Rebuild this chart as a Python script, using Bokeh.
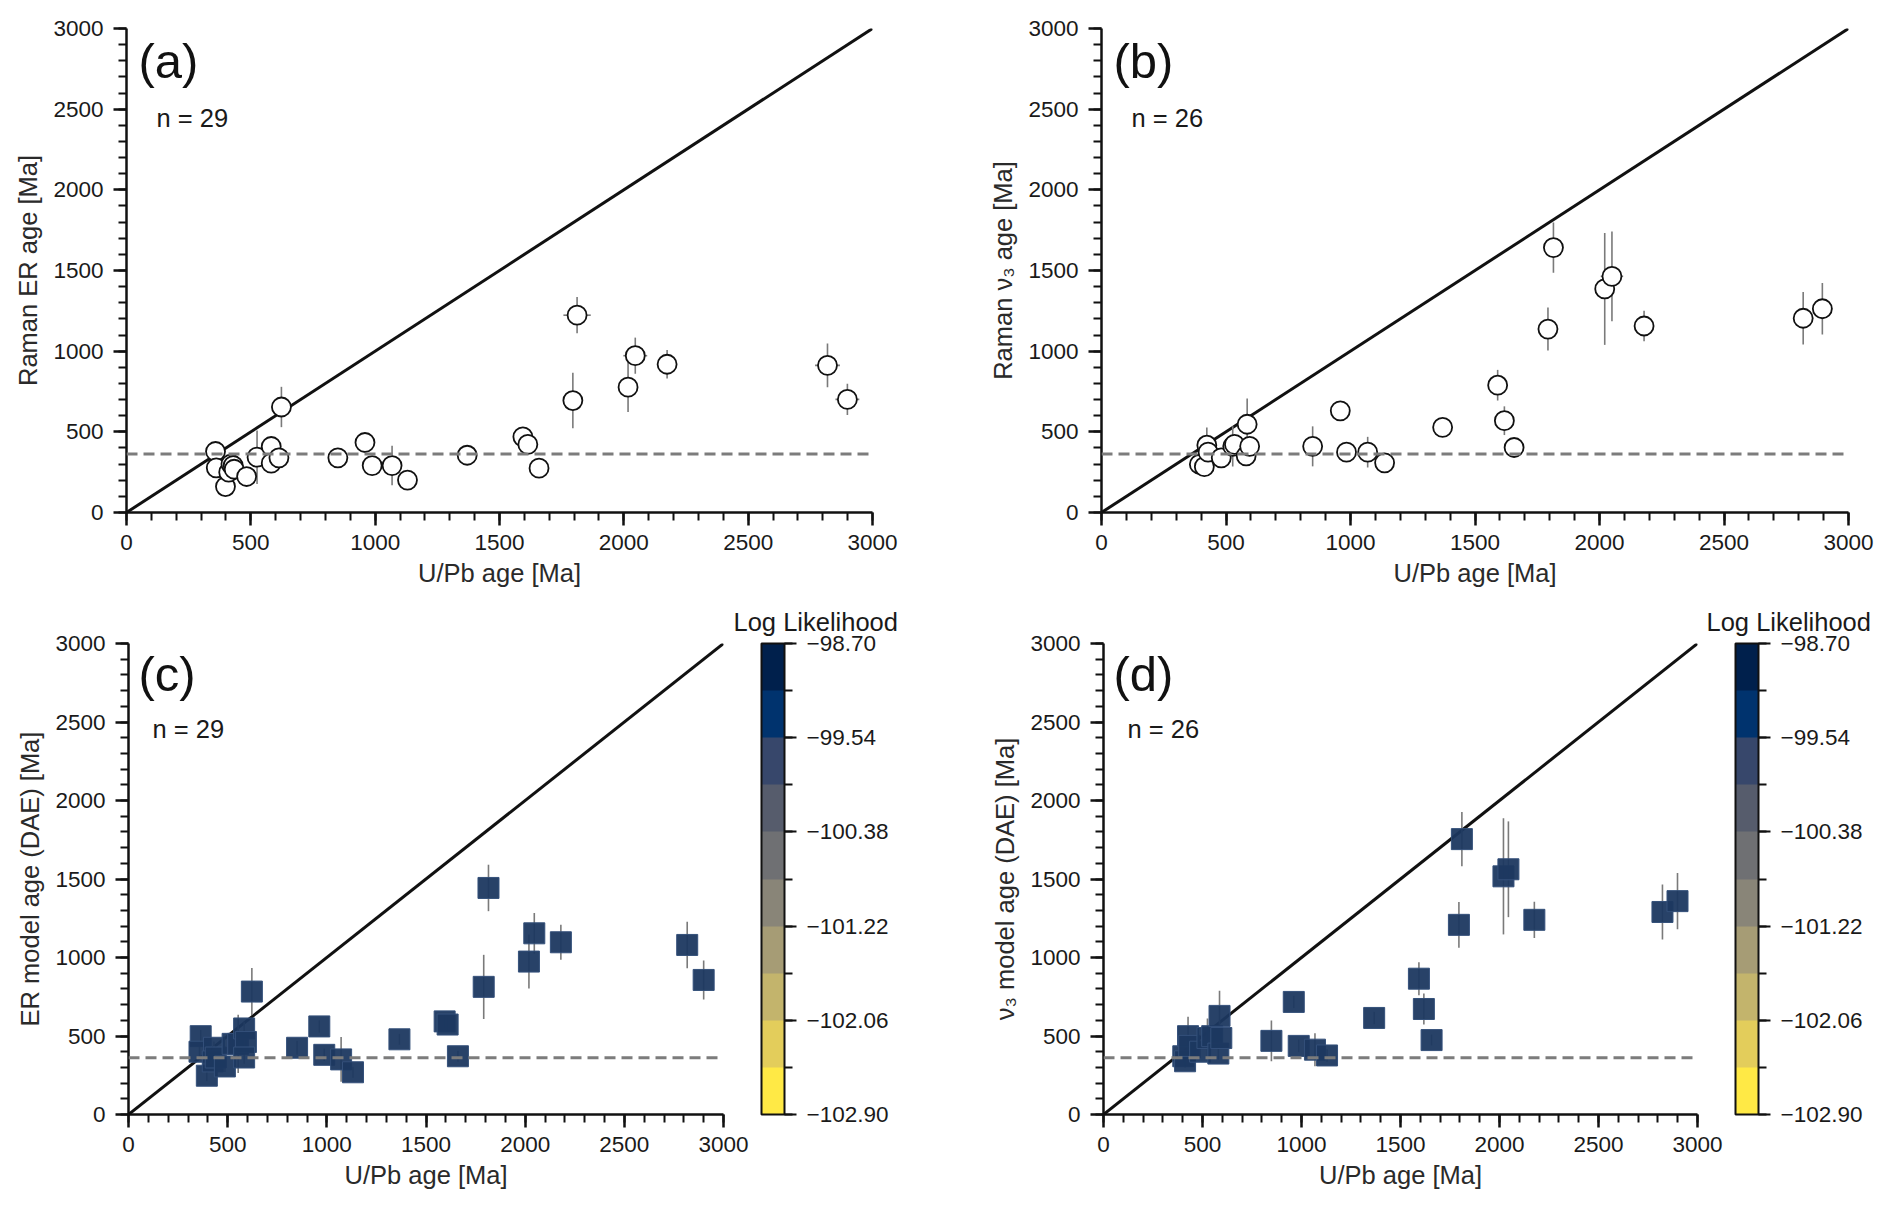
import numpy as np
from bokeh.plotting import figure
from bokeh.models import (ColumnDataSource, Range1d, SingleIntervalTicker, Span, Label, Title,
                          ColorBar, LinearColorMapper, FixedTicker, CustomJSTickFormatter)
from bokeh.layouts import column, row
from bokeh.palettes import cividis
from bokeh.embed import file_html
from bokeh.resources import INLINE

FONT = "Liberation Sans"

# ---- data ----
# (a) Raman ER age vs U/Pb age, n = 29
upb_a = [358, 361, 398, 411, 420, 429, 433, 483, 525, 582, 582, 613, 623, 850, 959, 988, 1068,
         1130, 1370, 1594, 1614, 1659, 1795, 1812, 2017, 2046, 2174, 2819, 2899]
upb_a_err = [15, 10, 10, 10, 10, 10, 10, 10, 10, 10, 10, 10, 10, 10, 10, 10, 10,
             10, 10, 10, 10, 10, 10, 55, 15, 48, 30, 50, 48]
er_a = [378, 277, 161, 250, 300, 291, 268, 223, 343, 409, 306, 339, 654, 339, 434, 291, 291,
        201, 355, 469, 422, 275, 694, 1223, 777, 972, 919, 912, 701]
er_a_err = [40, 35, 30, 35, 35, 40, 30, 30, 166, 35, 30, 40, 125, 30, 40, 35, 122,
            30, 30, 35, 40, 30, 172, 112, 154, 112, 89, 136, 97]

# (b) Raman nu3 age vs U/Pb age, n = 26
upb_b = [393, 413, 423, 428, 481, 527, 534, 581, 595, 585, 848, 959, 984, 1069, 1137, 1370,
         1591, 1618, 1657, 1793, 1815, 2021, 2050, 2179, 2818, 2895]
upb_b_err = [10, 10, 10, 10, 10, 10, 10, 10, 10, 10, 10, 10, 10, 10, 10, 10,
             10, 10, 10, 10, 40, 15, 45, 30, 40, 40]
nu3_b = [299, 284, 417, 374, 339, 410, 422, 351, 410, 547, 410, 630, 374, 374, 308, 528,
         789, 569, 403, 1137, 1642, 1386, 1464, 1156, 1204, 1263]
nu3_b_err = [40, 60, 110, 40, 35, 125, 40, 40, 40, 160, 124, 35, 35, 95, 35, 35,
             95, 89, 35, 133, 156, 347, 278, 95, 163, 160]

# (c) ER model age (DAE) vs U/Pb age, n = 29
upb_c = [364, 358, 395, 431, 425, 440, 486, 525, 553, 583, 592, 583, 622, 850, 962, 987, 1072,
         1132, 1366, 1594, 1609, 1661, 1791, 1815, 2019, 2046, 2180, 2817, 2900]
er_model_c = [499, 400, 247, 425, 338, 363, 306, 450, 450, 548, 462, 363, 783, 425, 561, 380, 351,
              269, 479, 593, 573, 371, 813, 1443, 974, 1154, 1097, 1080, 857]
er_model_c_err = [40, 40, 35, 40, 40, 40, 35, 40, 185, 40, 40, 40, 150, 45, 40, 40, 142,
                  35, 35, 40, 40, 35, 204, 148, 172, 130, 111, 148, 124]

# (d) nu3 model age (DAE) vs U/Pb age, n = 26
upb_d = [403, 412, 427, 433, 488, 525, 549, 580, 595, 586, 848, 961, 986, 1068, 1129, 1367,
         1593, 1618, 1657, 1795, 1810, 2020, 2045, 2176, 2823, 2899]
nu3_model_d = [371, 339, 499, 437, 400, 487, 499, 388, 487, 628, 469, 717, 437, 413, 376, 615,
               865, 672, 474, 1208, 1754, 1517, 1562, 1240, 1290, 1359]
nu3_model_d_err = [40, 40, 124, 40, 40, 124, 40, 40, 40, 161, 130, 40, 40, 105, 40, 40,
                   105, 99, 35, 146, 173, 370, 305, 115, 175, 179]

ref_age = 362  # dashed horizontal reference age [Ma]
ll_low, ll_high = -102.90, -98.70
ll_ticks = [-102.90, -102.06, -101.22, -100.38, -99.54, -98.70]
ll_bounds = [-102.90, -102.48, -102.06, -101.64, -101.22, -100.80, -100.38, -99.96, -99.54, -99.12, -98.70]


def make_panel(xs, ys, yerr, xerr, ylabel, kind, w, h, left, right, top, bottom):
    p = figure(width=w, height=h, x_range=Range1d(0, 3000), y_range=Range1d(0, 3000),
               output_backend="svg", toolbar_location=None,
               min_border_left=left, min_border_right=right,
               min_border_top=top, min_border_bottom=bottom)
    p.outline_line_color = None
    p.grid.visible = False

    for ax in (p.xaxis[0], p.yaxis[0]):
        ax.ticker = SingleIntervalTicker(interval=500, num_minor_ticks=5)
        ax.axis_line_width = 2.5
        ax.axis_line_color = "#111111"
        ax.major_tick_line_width = 2.5
        ax.major_tick_line_color = "#111111"
        ax.minor_tick_line_width = 2
        ax.minor_tick_line_color = "#111111"
        ax.major_tick_in = 0
        ax.major_tick_out = 13
        ax.minor_tick_in = 0
        ax.minor_tick_out = 8
        ax.major_label_text_font = FONT
        ax.major_label_text_font_size = "22.5px"
        ax.major_label_text_color = "#1a1a1a"
        ax.axis_label_text_font = FONT
        ax.axis_label_text_font_size = "25.5px"
        ax.axis_label_text_font_style = "normal"
        ax.axis_label_text_color = "#2a2a2a"
    p.xaxis.axis_label = "U/Pb age [Ma]"
    p.yaxis.axis_label = ylabel
    p.xaxis.major_label_standoff = 9
    p.yaxis.major_label_standoff = 10
    p.xaxis.axis_label_standoff = 6
    p.yaxis.axis_label_standoff = 8

    ys = np.array(ys, dtype=float)
    xs = np.array(xs, dtype=float)
    yerr = np.array(yerr, dtype=float)
    src = ColumnDataSource(dict(x=xs, y=ys, ylo=ys - yerr, yhi=ys + yerr))

    # 1:1 line and reference age
    p.line([0, 3000], [0, 3000], line_color="#111111", line_width=3)
    p.add_layout(Span(location=ref_age, dimension="width", line_color="#7c7c7c",
                      line_width=3, line_dash="11 6"))

    p.segment(x0="x", y0="ylo", x1="x", y1="yhi", source=src,
              line_color="#7a7a7a", line_width=1.6)
    if xerr is not None:
        xerr = np.array(xerr, dtype=float)
        src.data["xlo"] = xs - xerr
        src.data["xhi"] = xs + xerr
        p.segment(x0="xlo", y0="y", x1="xhi", y1="y", source=src,
                  line_color="#7a7a7a", line_width=1.6)

    if kind == "circle":
        p.scatter("x", "y", source=src, marker="circle", size=19,
                  fill_color="white", line_color="#111111", line_width=1.8)
    else:
        p.scatter("x", "y", source=src, marker="square", size=21,
                  fill_color="#1c3860", fill_alpha=0.95,
                  line_color="#34507a", line_width=1)
    return p


def add_labels(p, tag, n_text, fw, fh, tag_dx, n_dx, tag_dy, n_dy):
    # offsets given in screen pixels from the top-left corner of the frame
    p.add_layout(Label(x=tag_dx * 3000 / fw, y=3000 - tag_dy * 3000 / fh, text=tag,
                       text_font=FONT, text_font_size="49px", text_color="#111111",
                       text_baseline="middle", text_align="left"))
    p.add_layout(Label(x=n_dx * 3000 / fw, y=3000 - n_dy * 3000 / fh, text=n_text,
                       text_font=FONT, text_font_size="25.5px", text_color="#1a1a1a",
                       text_baseline="middle", text_align="left"))


def add_colorbar(p, title_offset):
    mapper = LinearColorMapper(palette=list(reversed(cividis(10))), low=ll_low, high=ll_high)
    cb = ColorBar(color_mapper=mapper, width=23, height=471, padding=0, margin=0,
                  location=(38, 0),
                  ticker=FixedTicker(ticks=ll_ticks, minor_ticks=ll_bounds),
                  formatter=CustomJSTickFormatter(code="return '\u2212' + Math.abs(tick).toFixed(2);"),
                  major_label_text_font=FONT, major_label_text_font_size="22.5px",
                  major_label_text_color="#1a1a1a", label_standoff=10,
                  bar_line_color="#111111", bar_line_width=2,
                  major_tick_line_color="#111111", major_tick_line_width=2,
                  major_tick_in=0, major_tick_out=12,
                  minor_tick_line_color="#111111", minor_tick_line_width=2,
                  minor_tick_in=0, minor_tick_out=8,
                  background_fill_color=None, border_line_color=None)
    p.add_layout(cb, "right")
    p.add_layout(Title(text="Log Likelihood", align="left", offset=title_offset,
                       text_font=FONT, text_font_size="25.5px", text_font_style="normal",
                       text_color="#1a1a1a", standoff=15), "above")


pa = make_panel(upb_a, er_a, er_a_err, upb_a_err, "Raman ER age [Ma]", "circle",
                946, 592, 126, 74, 28, 80)
add_labels(pa, "(a)", "n = 29", 746, 484, 12, 30, 32, 89)

pb = make_panel(upb_b, nu3_b, nu3_b_err, upb_b_err, "Raman \u03bd\u2083 age [Ma]", "circle",
                946, 592, 155, 44, 28, 80)
add_labels(pb, "(b)", "n = 26", 747, 484, 12, 30, 32, 89)

pc = make_panel(upb_c, er_model_c, er_model_c_err, None, "ER model age (DAE) [Ma]", "square",
                946, 617, 128, 223, 51, 95)
add_labels(pc, "(c)", "n = 29", 595, 471, 10, 24, 30, 85)
add_colorbar(pc, 605)

pd_ = make_panel(upb_d, nu3_model_d, nu3_model_d_err, None, "\u03bd\u2083 model age (DAE) [Ma]", "square",
                 946, 617, 157, 195, 51, 95)
add_labels(pd_, "(d)", "n = 26", 594, 471, 10, 24, 30, 85)
add_colorbar(pd_, 603)

layout = column(row(pa, pb), row(pc, pd_))
open("out.html", "w").write(file_html(layout, INLINE))
